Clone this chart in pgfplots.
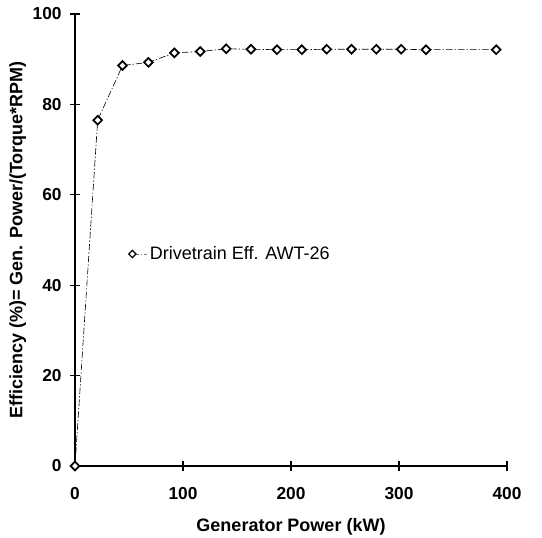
\documentclass[border=0pt]{standalone}
\usepackage{fontspec}
\setmainfont{Liberation Sans}
\usepackage{pgfplots}
\pgfplotsset{compat=1.18}
\begin{document}
\begin{tikzpicture}
\path[use as bounding box] (-56.25pt,-54pt) rectangle (350.25pt,349.5pt);
\begin{axis}[
  at={(0,0)}, anchor=south west,
  scale only axis, width=324pt, height=339pt,
  xmin=0, xmax=400, ymin=0, ymax=100,
  axis lines=left, axis line style={-, line width=1.1pt},
  xtick={0,100,200,300,400}, ytick={0,20,40,60,80,100},
  tick align=center, major tick length=7pt,
  tick style={line width=0.9pt, black},
  /pgf/number format/assume math mode=true,
  ticklabel style={font=\fontsize{13}{15}\selectfont\bfseries},
  xticklabel style={yshift=-9pt},
  yticklabel style={xshift=-3pt},
  xlabel={Generator Power (kW)},
  ylabel={Efficiency (\%)= Gen. Power/(Torque*RPM)},
  label style={font=\fontsize{13.5}{15}\selectfont\bfseries},
  xlabel style={yshift=-7pt},
  ylabel style={yshift=-2pt},
  clip=false,
  legend style={draw=none, fill=none, at={(0.124,0.469)}, anchor=west,
    font=\fontsize{13.5}{15}\selectfont, inner xsep=0pt},
  legend image code/.code={\draw[line width=0.3pt, gray] (0pt,0pt) -- (11pt,0pt); \draw[#1, mark size=1.9pt, mark options={solid, rotate=45, fill=white, draw=black, line width=0.9pt}] plot coordinates {(0pt,0pt)};},
]
\addplot[black, line width=0.45pt,
  dash pattern=on 5pt off 1.5pt on 1pt off 1.5pt,
  mark=square*, mark size=2.3pt,
  mark options={solid, rotate=45, fill=white, draw=black, line width=1.3pt}]
  coordinates {
  (0,0) (21,76.5) (44,88.6) (68,89.3) (92,91.4) (116,91.7)
  (140,92.3) (163,92.2) (187,92.1) (210,92.1) (233,92.2)
  (256,92.2) (279,92.2) (302,92.2) (325,92.1) (390,92.1)
  };
\addlegendentry{Drivetrain Eff. AWT-26}
\end{axis}
\end{tikzpicture}
\end{document}
